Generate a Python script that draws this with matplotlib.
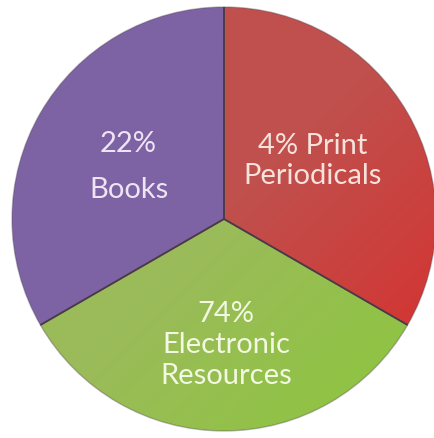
import numpy as np
import matplotlib
matplotlib.use("Agg")
import matplotlib.pyplot as plt
from matplotlib.colors import LinearSegmentedColormap

# slices as drawn (three equal wedges), clockwise from 12 o'clock
slice_names = ["Print Periodicals", "Electronic Resources", "Books"]
slice_share = [33.3, 33.3, 33.3]
slice_text = ["4% Print\nPeriodicals", "74%\nElectronic\nResources", "22%\nBooks"]
# gradient colours, light corner -> dark corner
slice_cols = [("#c0504d", "#d92c2a"), ("#9bbb5a", "#8cc63c"), ("#7d63a4", "#6a3eac")]
text_cols = ["#f7e2dc", "#f2f8e2", "#efe4f4"]
# label centre as offset from pie centre, in radius units
label_off = [(0.42, 0.28), (0.01, -0.59), (-0.45, 0.25)]
label_ls = [1.2, 1.25, 1.95]

W, H = 435, 439
fig = plt.figure(figsize=(W / 100, H / 100), dpi=100)
ax = fig.add_axes([0, 0, 1, 1])
cx, cy, R = 224, H - 220, 212

wedges, _ = ax.pie(slice_share, center=(cx, cy), radius=R, startangle=90,
                   counterclock=False, colors=[c[0] for c in slice_cols],
                   wedgeprops=dict(edgecolor=(0.3, 0.25, 0.3, 0.35), linewidth=1.0))
ax.set_xlim(0, W)
ax.set_ylim(0, H)
ax.set_aspect("equal")
ax.axis("off")

# fake gradient fill clipped to each wedge (dark toward bottom right)
xx, yy = np.meshgrid(np.linspace(0, 1, 200), np.linspace(0, 1, 200))
grad = (xx + yy) / 2
for w, (c1, c2) in zip(wedges, slice_cols):
    cm = LinearSegmentedColormap.from_list("g", [c1, c1, c2])
    im = ax.imshow(grad, cmap=cm, extent=(cx - R, cx + R, cy - R, cy + R),
                   origin="upper", zorder=w.get_zorder() + 0.1)
    im.set_clip_path(w)

# soft outer rim on top
for w in wedges:
    w.set_zorder(5)
    w.set_facecolor("none")

# darker lines between slices
for w in wedges:
    a = np.deg2rad(w.theta1)
    ax.plot([cx, cx + R * np.cos(a)], [cy, cy + R * np.sin(a)],
            color="#4a3a48", lw=1.3, zorder=5.5, solid_capstyle="butt")

for txt, tc, (dx, dy), ls in zip(slice_text, text_cols, label_off, label_ls):
    ax.text(cx + dx * R, cy + dy * R, txt, ha="center", va="center", color=tc,
            fontsize=21, family=["Lato", "DejaVu Sans"], linespacing=ls, zorder=6)

fig.savefig("out.png", dpi=100)
